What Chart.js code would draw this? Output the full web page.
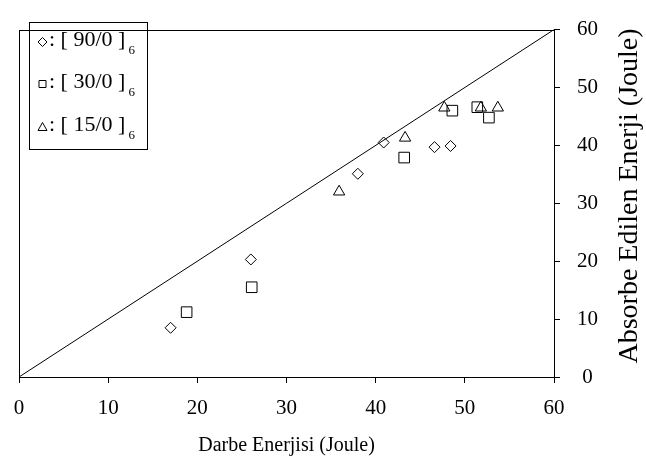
<!DOCTYPE html>
<html>
<head>
<meta charset="utf-8">
<script src="https://cdn.jsdelivr.net/npm/chart.js@4/dist/chart.umd.min.js"></script>
<style>
html,body{margin:0;padding:0;background:#fff;}
#wrap{width:646px;height:464px;position:relative;}
</style>
</head>
<body>
<div id="wrap"><canvas id="c" width="646" height="464"></canvas></div>
<script>
// Data
const series90x = [17.0, 26.0, 38.0, 40.9, 46.6, 48.4];
const series90y = [8.5, 20.3, 35.1, 40.5, 39.7, 39.9];
const series30x = [18.8, 26.1, 43.2, 48.6, 51.4, 52.7];
const series30y = [11.2, 15.5, 37.9, 46.0, 46.6, 44.8];
const series15x = [35.9, 43.3, 47.7, 51.8, 53.7];
const series15y = [32.0, 41.3, 46.5, 46.5, 46.5];
const refLineX = [0, 60];
const refLineY = [0, 60];
const legendLabels = ['[ 90/0 ]', '[ 30/0 ]', '[ 15/0 ]'];
const legendSub = '6';
const xTitle = 'Darbe Enerjisi (Joule)';
const yTitle = 'Absorbe Edilen Enerji (Joule)';

const FONT = "'Liberation Serif', 'Times New Roman', serif";
const pts = (xs, ys) => xs.map((x, i) => ({x, y: ys[i]}));

const frame = {
  id: 'frame',
  afterDraw(chart) {
    const {ctx, chartArea: a} = chart;
    ctx.save();
    ctx.strokeStyle = '#000';
    ctx.lineWidth = 1;
    ctx.strokeRect(Math.round(a.left) + 0.5, Math.round(a.top) + 0.5,
      Math.round(a.right - a.left), Math.round(a.bottom - a.top));
    // titles
    ctx.fillStyle = '#000';
    ctx.font = '20px ' + FONT;
    ctx.textAlign = 'center';
    ctx.textBaseline = 'middle';
    ctx.fillText(xTitle, (a.left + a.right) / 2, 446);
    ctx.save();
    ctx.translate(630, 196);
    ctx.rotate(-Math.PI / 2);
    ctx.font = '28px ' + FONT;
    ctx.fillText(yTitle, 0, 0);
    ctx.restore();
    // legend box
    ctx.strokeRect(29.5, 22.5, 118, 127);
    const rows = [46, 88, 131];
    const styles = ['diamond', 'square', 'triangle'];
    rows.forEach((b, i) => {
      const mx = 42.5, my = b - 4;
      ctx.beginPath();
      if (styles[i] === 'diamond') {
        ctx.moveTo(mx, my - 4.5); ctx.lineTo(mx + 4.5, my); ctx.lineTo(mx, my + 4.5); ctx.lineTo(mx - 4.5, my); ctx.closePath();
      } else if (styles[i] === 'square') {
        ctx.rect(mx - 3.5, my - 3.5, 7, 7);
      } else {
        ctx.moveTo(mx, my - 4.5); ctx.lineTo(mx + 4.5, my + 3.5); ctx.lineTo(mx - 4.5, my + 3.5); ctx.closePath();
      }
      ctx.stroke();
      ctx.textAlign = 'left';
      ctx.textBaseline = 'alphabetic';
      ctx.font = '22px ' + FONT;
      const t = ': ' + legendLabels[i];
      ctx.fillText(t, 49, b);
      const w = ctx.measureText(t).width;
      ctx.font = '13px ' + FONT;
      ctx.fillText(legendSub, 49 + w + 3, b + 8);
    });
    ctx.restore();
  }
};

new Chart(document.getElementById('c'), {
  type: 'scatter',
  data: {
    datasets: [
      {label: '90/0', data: pts(series90x, series90y), pointStyle: 'rectRot', pointRadius: 5.5,
       borderColor: '#000', backgroundColor: 'rgba(0,0,0,0)', borderWidth: 1},
      {label: '30/0', data: pts(series30x, series30y), pointStyle: 'rect', pointRadius: 7.5,
       borderColor: '#000', backgroundColor: 'rgba(0,0,0,0)', borderWidth: 1},
      {label: '15/0', data: pts(series15x, series15y), pointStyle: 'triangle', pointRadius: 6.5,
       borderColor: '#000', backgroundColor: 'rgba(0,0,0,0)', borderWidth: 1},
      {type: 'line', label: 'ref', data: pts(refLineX, refLineY), borderColor: '#000', borderWidth: 1,
       pointRadius: 0, fill: false}
    ]
  },
  options: {
    responsive: false,
    animation: false,
    events: [],
    layout: {padding: {left: 19, top: 12, right: 0, bottom: 0}},
    plugins: {legend: {display: false}, tooltip: {enabled: false}},
    scales: {
      x: {
        type: 'linear', min: 0, max: 60,
        afterFit(s) { s.height = 87; },
        ticks: {stepSize: 10, color: '#000', font: {family: FONT, size: 21}, padding: 13, maxRotation: 0},
        grid: {drawOnChartArea: false, drawTicks: true, tickLength: 6, color: '#000'},
        border: {display: true, color: '#000', width: 1}
      },
      y: {
        type: 'linear', position: 'right', min: 0, max: 60,
        afterFit(s) { s.width = 92; },
        ticks: {stepSize: 10, color: '#000', font: {family: FONT, size: 21}, padding: 17, crossAlign: 'center'},
        grid: {drawOnChartArea: false, drawTicks: true, tickLength: 6, color: '#000'},
        border: {display: true, color: '#000', width: 1}
      }
    }
  },
  plugins: [frame]
});
</script>
</body>
</html>
